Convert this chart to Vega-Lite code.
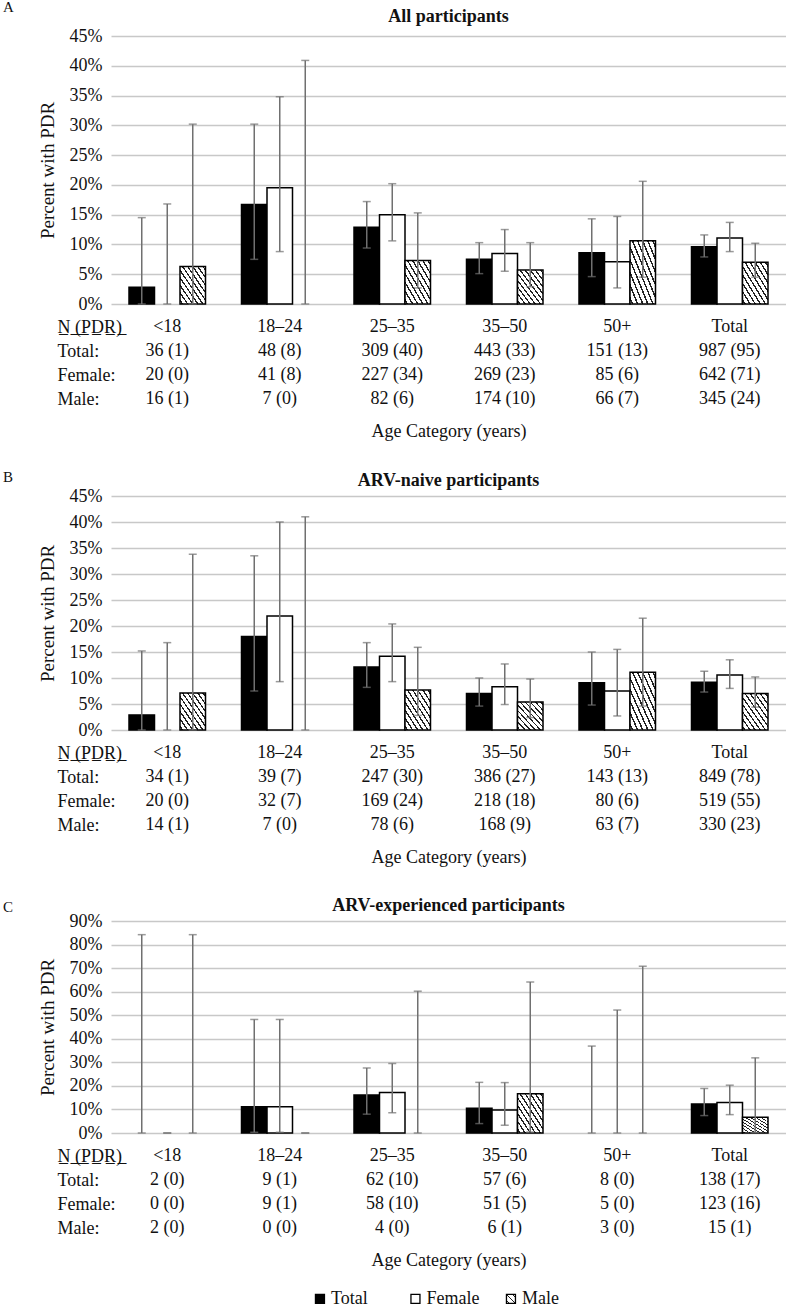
{
  "$schema": "https://vega.github.io/schema/vega-lite/v6.json",
  "padding": {"left": 3, "top": 0, "right": 0, "bottom": 0},
  "config": {
    "font": "Liberation Serif",
    "view": {"stroke": null},
    "axis": {"labelFont": "Liberation Serif", "titleFont": "Liberation Serif", "labelColor": "#111", "titleColor": "#111", "titleFontWeight": "normal", "labelOverlap": false},
    "title": {"font": "Liberation Serif", "color": "#111"},
    "text": {"font": "Liberation Serif", "color": "#111"}
  },
  "datasets": {
    "bars": [
      {"p":"A","age":"<18","sex":"Total","pct":2.8,"lo":0,"hi":14.5},
      {"p":"A","age":"<18","sex":"Female","pct":0,"lo":0,"hi":16.8},
      {"p":"A","age":"<18","sex":"Male","pct":6.3,"lo":0,"hi":30.2},
      {"p":"A","age":"18–24","sex":"Total","pct":16.7,"lo":7.5,"hi":30.2},
      {"p":"A","age":"18–24","sex":"Female","pct":19.5,"lo":8.8,"hi":34.8},
      {"p":"A","age":"18–24","sex":"Male","pct":0,"lo":0,"hi":40.9},
      {"p":"A","age":"25–35","sex":"Total","pct":12.9,"lo":9.4,"hi":17.2},
      {"p":"A","age":"25–35","sex":"Female","pct":15.0,"lo":10.6,"hi":20.2},
      {"p":"A","age":"25–35","sex":"Male","pct":7.3,"lo":2.7,"hi":15.3},
      {"p":"A","age":"35–50","sex":"Total","pct":7.5,"lo":5.1,"hi":10.3},
      {"p":"A","age":"35–50","sex":"Female","pct":8.5,"lo":5.5,"hi":12.5},
      {"p":"A","age":"35–50","sex":"Male","pct":5.7,"lo":2.9,"hi":10.3},
      {"p":"A","age":"50+","sex":"Total","pct":8.6,"lo":4.6,"hi":14.3},
      {"p":"A","age":"50+","sex":"Female","pct":7.1,"lo":2.7,"hi":14.7},
      {"p":"A","age":"50+","sex":"Male","pct":10.6,"lo":4.5,"hi":20.6},
      {"p":"A","age":"Total","sex":"Total","pct":9.6,"lo":7.9,"hi":11.6},
      {"p":"A","age":"Total","sex":"Female","pct":11.1,"lo":8.8,"hi":13.7},
      {"p":"A","age":"Total","sex":"Male","pct":7.0,"lo":4.5,"hi":10.2},
      {"p":"B","age":"<18","sex":"Total","pct":2.9,"lo":0,"hi":15.2},
      {"p":"B","age":"<18","sex":"Female","pct":0,"lo":0,"hi":16.8},
      {"p":"B","age":"<18","sex":"Male","pct":7.1,"lo":0,"hi":33.8},
      {"p":"B","age":"18–24","sex":"Total","pct":18.0,"lo":7.5,"hi":33.5},
      {"p":"B","age":"18–24","sex":"Female","pct":21.9,"lo":9.3,"hi":40.0},
      {"p":"B","age":"18–24","sex":"Male","pct":0,"lo":0,"hi":41.0},
      {"p":"B","age":"25–35","sex":"Total","pct":12.1,"lo":8.2,"hi":16.8},
      {"p":"B","age":"25–35","sex":"Female","pct":14.2,"lo":9.3,"hi":20.4},
      {"p":"B","age":"25–35","sex":"Male","pct":7.7,"lo":2.8,"hi":15.9},
      {"p":"B","age":"35–50","sex":"Total","pct":7.0,"lo":4.6,"hi":10.0},
      {"p":"B","age":"35–50","sex":"Female","pct":8.3,"lo":4.9,"hi":12.7},
      {"p":"B","age":"35–50","sex":"Male","pct":5.4,"lo":2.4,"hi":9.8},
      {"p":"B","age":"50+","sex":"Total","pct":9.1,"lo":4.8,"hi":15.0},
      {"p":"B","age":"50+","sex":"Female","pct":7.5,"lo":2.7,"hi":15.5},
      {"p":"B","age":"50+","sex":"Male","pct":11.1,"lo":4.6,"hi":21.5},
      {"p":"B","age":"Total","sex":"Total","pct":9.2,"lo":7.3,"hi":11.3},
      {"p":"B","age":"Total","sex":"Female","pct":10.6,"lo":8.0,"hi":13.5},
      {"p":"B","age":"Total","sex":"Male","pct":7.0,"lo":4.4,"hi":10.2},
      {"p":"C","age":"<18","sex":"Total","pct":0,"lo":0,"hi":84.2},
      {"p":"C","age":"<18","sex":"Female","pct":0,"lo":0,"hi":0},
      {"p":"C","age":"<18","sex":"Male","pct":0,"lo":0,"hi":84.2},
      {"p":"C","age":"18–24","sex":"Total","pct":11.1,"lo":0.3,"hi":48.2},
      {"p":"C","age":"18–24","sex":"Female","pct":11.1,"lo":0.3,"hi":48.2},
      {"p":"C","age":"18–24","sex":"Male","pct":0,"lo":0,"hi":0},
      {"p":"C","age":"25–35","sex":"Total","pct":16.1,"lo":8.0,"hi":27.6},
      {"p":"C","age":"25–35","sex":"Female","pct":17.2,"lo":8.6,"hi":29.5},
      {"p":"C","age":"25–35","sex":"Male","pct":0,"lo":0,"hi":60.2},
      {"p":"C","age":"35–50","sex":"Total","pct":10.5,"lo":4.0,"hi":21.5},
      {"p":"C","age":"35–50","sex":"Female","pct":9.8,"lo":3.3,"hi":21.4},
      {"p":"C","age":"35–50","sex":"Male","pct":16.7,"lo":0.4,"hi":64.1},
      {"p":"C","age":"50+","sex":"Total","pct":0,"lo":0,"hi":36.9},
      {"p":"C","age":"50+","sex":"Female","pct":0,"lo":0,"hi":52.2},
      {"p":"C","age":"50+","sex":"Male","pct":0,"lo":0,"hi":70.8},
      {"p":"C","age":"Total","sex":"Total","pct":12.3,"lo":7.4,"hi":18.9},
      {"p":"C","age":"Total","sex":"Female","pct":13.0,"lo":7.8,"hi":20.3},
      {"p":"C","age":"Total","sex":"Male","pct":6.7,"lo":0.2,"hi":31.9}
    ],
    "tbl": [
      {"p":"A","age":"<18","h":"<18","t":"36 (1)","f":"20 (0)","m":"16 (1)"},
      {"p":"A","age":"18–24","h":"18–24","t":"48 (8)","f":"41 (8)","m":"7 (0)"},
      {"p":"A","age":"25–35","h":"25–35","t":"309 (40)","f":"227 (34)","m":"82 (6)"},
      {"p":"A","age":"35–50","h":"35–50","t":"443 (33)","f":"269 (23)","m":"174 (10)"},
      {"p":"A","age":"50+","h":"50+","t":"151 (13)","f":"85 (6)","m":"66 (7)"},
      {"p":"A","age":"Total","h":"Total","t":"987 (95)","f":"642 (71)","m":"345 (24)"},
      {"p":"B","age":"<18","h":"<18","t":"34 (1)","f":"20 (0)","m":"14 (1)"},
      {"p":"B","age":"18–24","h":"18–24","t":"39 (7)","f":"32 (7)","m":"7 (0)"},
      {"p":"B","age":"25–35","h":"25–35","t":"247 (30)","f":"169 (24)","m":"78 (6)"},
      {"p":"B","age":"35–50","h":"35–50","t":"386 (27)","f":"218 (18)","m":"168 (9)"},
      {"p":"B","age":"50+","h":"50+","t":"143 (13)","f":"80 (6)","m":"63 (7)"},
      {"p":"B","age":"Total","h":"Total","t":"849 (78)","f":"519 (55)","m":"330 (23)"},
      {"p":"C","age":"<18","h":"<18","t":"2 (0)","f":"0 (0)","m":"2 (0)"},
      {"p":"C","age":"18–24","h":"18–24","t":"9 (1)","f":"9 (1)","m":"0 (0)"},
      {"p":"C","age":"25–35","h":"25–35","t":"62 (10)","f":"58 (10)","m":"4 (0)"},
      {"p":"C","age":"35–50","h":"35–50","t":"57 (6)","f":"51 (5)","m":"6 (1)"},
      {"p":"C","age":"50+","h":"50+","t":"8 (0)","f":"5 (0)","m":"3 (0)"},
      {"p":"C","age":"Total","h":"Total","t":"138 (17)","f":"123 (16)","m":"15 (1)"}
    ],
    "leg": [{"sex":"Total"},{"sex":"Female"},{"sex":"Male"}]
  },
  "spacing": 29,
  "vconcat": [
    {
      "title": {"text": "A", "anchor": "start", "frame": "group", "dx": -108, "offset": -18.7, "baseline": "alphabetic", "fontSize": 15, "fontWeight": "normal"},
      "bounds": "flush",
      "spacing": 11.4,
      "vconcat": [
        {
          "width": 675, "height": 268,
          "title": {"text": "All participants", "anchor": "middle", "frame": "group", "offset": -13.4, "baseline": "alphabetic", "fontSize": 18, "fontWeight": "bold"},
          "data": {"name": "bars"},
          "transform": [{"filter": "datum.p === 'A'"}],
          "encoding": {
            "x": {"field": "age", "type": "nominal", "sort": ["<18","18–24","25–35","35–50","50+","Total"], "scale": {"domain": ["<18","18–24","25–35","35–50","50+","Total"], "paddingInner": 0.32, "paddingOuter": 0.16}, "axis": null},
            "xOffset": {"field": "sex", "type": "nominal", "sort": ["Total","Female","Male"], "scale": {"domain": ["Total","Female","Male"], "paddingInner": 0, "paddingOuter": 0}}
          },
          "layer": [
            {
              "transform": [{"filter": "datum.sex !== 'Male' && datum.pct > 0"}],
              "mark": {"type": "bar", "stroke": "#000", "strokeWidth": 1.5},
              "encoding": {
                "y": {"field": "pct", "type": "quantitative", "scale": {"domain": [0, 45], "nice": false}, "axis": {"title": "Percent with PDR", "values": [0,5,10,15,20,25,30,35,40,45], "tickCount": 10, "labelOverlap": false, "labelExpr": "datum.value + '%'", "domain": false, "ticks": false, "grid": true, "gridColor": "#c8c8c8", "gridWidth": 1.5, "labelPadding": 9, "labelFontSize": 18, "titleFontSize": 19, "titlePadding": 12}},
                "fill": {"field": "sex", "type": "nominal", "scale": {"domain": ["Total","Female"], "range": ["#000","#fff"]}, "legend": null}
              }
            },
            {
              "transform": [{"filter": "datum.sex === 'Male' && datum.pct > 0"}],
              "mark": {"type": "bar", "stroke": "#000", "strokeWidth": 1.5, "fill": {"gradient": "linear", "x1": 0, "y1": 1, "x2": 1, "y2": 0, "stops": [{"offset":0,"color":"#fff"},{"offset":0.035,"color":"#fff"},{"offset":0.035,"color":"#222"},{"offset":0.065,"color":"#222"},{"offset":0.065,"color":"#fff"},{"offset":0.135,"color":"#fff"},{"offset":0.135,"color":"#222"},{"offset":0.165,"color":"#222"},{"offset":0.165,"color":"#fff"},{"offset":0.235,"color":"#fff"},{"offset":0.235,"color":"#222"},{"offset":0.265,"color":"#222"},{"offset":0.265,"color":"#fff"},{"offset":0.335,"color":"#fff"},{"offset":0.335,"color":"#222"},{"offset":0.365,"color":"#222"},{"offset":0.365,"color":"#fff"},{"offset":0.435,"color":"#fff"},{"offset":0.435,"color":"#222"},{"offset":0.465,"color":"#222"},{"offset":0.465,"color":"#fff"},{"offset":0.535,"color":"#fff"},{"offset":0.535,"color":"#222"},{"offset":0.565,"color":"#222"},{"offset":0.565,"color":"#fff"},{"offset":0.635,"color":"#fff"},{"offset":0.635,"color":"#222"},{"offset":0.665,"color":"#222"},{"offset":0.665,"color":"#fff"},{"offset":0.735,"color":"#fff"},{"offset":0.735,"color":"#222"},{"offset":0.765,"color":"#222"},{"offset":0.765,"color":"#fff"},{"offset":0.835,"color":"#fff"},{"offset":0.835,"color":"#222"},{"offset":0.865,"color":"#222"},{"offset":0.865,"color":"#fff"},{"offset":0.935,"color":"#fff"},{"offset":0.935,"color":"#222"},{"offset":0.965,"color":"#222"},{"offset":0.965,"color":"#fff"},{"offset":1,"color":"#fff"}]}},
              "encoding": {"y": {"field": "pct", "type": "quantitative"}}
            },
            {
              "mark": {"type": "rule", "color": "#707070", "strokeWidth": 1.5},
              "encoding": {"y": {"field": "lo", "type": "quantitative"}, "y2": {"field": "hi"}}
            },
            {
              "mark": {"type": "tick", "color": "#707070", "thickness": 1.5, "size": 8},
              "encoding": {"y": {"field": "hi", "type": "quantitative"}}
            },
            {
              "mark": {"type": "tick", "color": "#707070", "thickness": 1.5, "size": 8},
              "encoding": {"y": {"field": "lo", "type": "quantitative"}}
            }
          ]
        },
        {
          "width": 675, "height": 96,
          "data": {"name": "tbl"},
          "transform": [{"filter": "datum.p === 'A'"}, {"fold": ["h","t","f","m"], "as": ["row","txt"]}],
          "mark": {"type": "text", "fontSize": 18, "baseline": "middle"},
          "encoding": {
            "x": {"field": "age", "type": "nominal", "sort": ["<18","18–24","25–35","35–50","50+","Total"], "scale": {"domain": ["<18","18–24","25–35","35–50","50+","Total"], "paddingInner": 0.32, "paddingOuter": 0.16}, "axis": {"title": "Age Category (years)", "labels": false, "ticks": false, "domain": false, "grid": false, "titleFontSize": 18, "titlePadding": 11}},
            "y": {"field": "row", "type": "nominal", "sort": ["h","t","f","m"], "scale": {"domain": ["h","t","f","m"], "paddingInner": 0, "paddingOuter": 0}, "axis": {"title": null, "labelExpr": "datum.value === 'h' ? 'N\u0332 \u0332(\u0332P\u0332D\u0332R\u0332)\u0332' : datum.value === 't' ? 'Total:' : datum.value === 'f' ? 'Female:' : 'Male:'", "labelAlign": "left", "labelPadding": 54, "ticks": false, "domain": false, "grid": false, "labelFontSize": 18}},
            "text": {"field": "txt", "type": "nominal"}
          }
        }
      ]
    },
    {
      "title": {"text": "B", "anchor": "start", "frame": "group", "dx": -108, "offset": -25.6, "baseline": "alphabetic", "fontSize": 15, "fontWeight": "normal"},
      "bounds": "flush",
      "spacing": 11.4,
      "vconcat": [
        {
          "width": 675, "height": 234,
          "title": {"text": "ARV-naive participants", "anchor": "middle", "frame": "group", "offset": -16.7, "baseline": "alphabetic", "fontSize": 18, "fontWeight": "bold"},
          "data": {"name": "bars"},
          "transform": [{"filter": "datum.p === 'B'"}],
          "encoding": {
            "x": {"field": "age", "type": "nominal", "sort": ["<18","18–24","25–35","35–50","50+","Total"], "scale": {"domain": ["<18","18–24","25–35","35–50","50+","Total"], "paddingInner": 0.32, "paddingOuter": 0.16}, "axis": null},
            "xOffset": {"field": "sex", "type": "nominal", "sort": ["Total","Female","Male"], "scale": {"domain": ["Total","Female","Male"], "paddingInner": 0, "paddingOuter": 0}}
          },
          "layer": [
            {
              "transform": [{"filter": "datum.sex !== 'Male' && datum.pct > 0"}],
              "mark": {"type": "bar", "stroke": "#000", "strokeWidth": 1.5},
              "encoding": {
                "y": {"field": "pct", "type": "quantitative", "scale": {"domain": [0, 45], "nice": false}, "axis": {"title": "Percent with PDR", "values": [0,5,10,15,20,25,30,35,40,45], "tickCount": 10, "labelOverlap": false, "labelExpr": "datum.value + '%'", "domain": false, "ticks": false, "grid": true, "gridColor": "#c8c8c8", "gridWidth": 1.5, "labelPadding": 9, "labelFontSize": 18, "titleFontSize": 19, "titlePadding": 12}},
                "fill": {"field": "sex", "type": "nominal", "scale": {"domain": ["Total","Female"], "range": ["#000","#fff"]}, "legend": null}
              }
            },
            {
              "transform": [{"filter": "datum.sex === 'Male' && datum.pct > 0"}],
              "mark": {"type": "bar", "stroke": "#000", "strokeWidth": 1.5, "fill": {"gradient": "linear", "x1": 0, "y1": 1, "x2": 1, "y2": 0, "stops": [{"offset":0,"color":"#fff"},{"offset":0.035,"color":"#fff"},{"offset":0.035,"color":"#222"},{"offset":0.065,"color":"#222"},{"offset":0.065,"color":"#fff"},{"offset":0.135,"color":"#fff"},{"offset":0.135,"color":"#222"},{"offset":0.165,"color":"#222"},{"offset":0.165,"color":"#fff"},{"offset":0.235,"color":"#fff"},{"offset":0.235,"color":"#222"},{"offset":0.265,"color":"#222"},{"offset":0.265,"color":"#fff"},{"offset":0.335,"color":"#fff"},{"offset":0.335,"color":"#222"},{"offset":0.365,"color":"#222"},{"offset":0.365,"color":"#fff"},{"offset":0.435,"color":"#fff"},{"offset":0.435,"color":"#222"},{"offset":0.465,"color":"#222"},{"offset":0.465,"color":"#fff"},{"offset":0.535,"color":"#fff"},{"offset":0.535,"color":"#222"},{"offset":0.565,"color":"#222"},{"offset":0.565,"color":"#fff"},{"offset":0.635,"color":"#fff"},{"offset":0.635,"color":"#222"},{"offset":0.665,"color":"#222"},{"offset":0.665,"color":"#fff"},{"offset":0.735,"color":"#fff"},{"offset":0.735,"color":"#222"},{"offset":0.765,"color":"#222"},{"offset":0.765,"color":"#fff"},{"offset":0.835,"color":"#fff"},{"offset":0.835,"color":"#222"},{"offset":0.865,"color":"#222"},{"offset":0.865,"color":"#fff"},{"offset":0.935,"color":"#fff"},{"offset":0.935,"color":"#222"},{"offset":0.965,"color":"#222"},{"offset":0.965,"color":"#fff"},{"offset":1,"color":"#fff"}]}},
              "encoding": {"y": {"field": "pct", "type": "quantitative"}}
            },
            {
              "mark": {"type": "rule", "color": "#707070", "strokeWidth": 1.5},
              "encoding": {"y": {"field": "lo", "type": "quantitative"}, "y2": {"field": "hi"}}
            },
            {
              "mark": {"type": "tick", "color": "#707070", "thickness": 1.5, "size": 8},
              "encoding": {"y": {"field": "hi", "type": "quantitative"}}
            },
            {
              "mark": {"type": "tick", "color": "#707070", "thickness": 1.5, "size": 8},
              "encoding": {"y": {"field": "lo", "type": "quantitative"}}
            }
          ]
        },
        {
          "width": 675, "height": 96,
          "data": {"name": "tbl"},
          "transform": [{"filter": "datum.p === 'B'"}, {"fold": ["h","t","f","m"], "as": ["row","txt"]}],
          "mark": {"type": "text", "fontSize": 18, "baseline": "middle"},
          "encoding": {
            "x": {"field": "age", "type": "nominal", "sort": ["<18","18–24","25–35","35–50","50+","Total"], "scale": {"domain": ["<18","18–24","25–35","35–50","50+","Total"], "paddingInner": 0.32, "paddingOuter": 0.16}, "axis": {"title": "Age Category (years)", "labels": false, "ticks": false, "domain": false, "grid": false, "titleFontSize": 18, "titlePadding": 11}},
            "y": {"field": "row", "type": "nominal", "sort": ["h","t","f","m"], "scale": {"domain": ["h","t","f","m"], "paddingInner": 0, "paddingOuter": 0}, "axis": {"title": null, "labelExpr": "datum.value === 'h' ? 'N\u0332 \u0332(\u0332P\u0332D\u0332R\u0332)\u0332' : datum.value === 't' ? 'Total:' : datum.value === 'f' ? 'Female:' : 'Male:'", "labelAlign": "left", "labelPadding": 54, "ticks": false, "domain": false, "grid": false, "labelFontSize": 18}},
            "text": {"field": "txt", "type": "nominal"}
          }
        }
      ]
    },
    {
      "title": {"text": "C", "anchor": "start", "frame": "group", "dx": -108, "offset": -30, "baseline": "alphabetic", "fontSize": 15, "fontWeight": "normal"},
      "bounds": "flush",
      "center": true,
      "spacing": 11.4,
      "vconcat": [
        {
          "width": 675, "height": 212,
          "title": {"text": "ARV-experienced participants", "anchor": "middle", "frame": "group", "offset": -16.6, "baseline": "alphabetic", "fontSize": 18, "fontWeight": "bold"},
          "data": {"name": "bars"},
          "transform": [{"filter": "datum.p === 'C'"}],
          "encoding": {
            "x": {"field": "age", "type": "nominal", "sort": ["<18","18–24","25–35","35–50","50+","Total"], "scale": {"domain": ["<18","18–24","25–35","35–50","50+","Total"], "paddingInner": 0.32, "paddingOuter": 0.16}, "axis": null},
            "xOffset": {"field": "sex", "type": "nominal", "sort": ["Total","Female","Male"], "scale": {"domain": ["Total","Female","Male"], "paddingInner": 0, "paddingOuter": 0}}
          },
          "layer": [
            {
              "transform": [{"filter": "datum.sex !== 'Male' && datum.pct > 0"}],
              "mark": {"type": "bar", "stroke": "#000", "strokeWidth": 1.5},
              "encoding": {
                "y": {"field": "pct", "type": "quantitative", "scale": {"domain": [0, 90], "nice": false}, "axis": {"title": "Percent with PDR", "values": [0,10,20,30,40,50,60,70,80,90], "tickCount": 10, "labelOverlap": false, "labelExpr": "datum.value + '%'", "domain": false, "ticks": false, "grid": true, "gridColor": "#c8c8c8", "gridWidth": 1.5, "labelPadding": 9, "labelFontSize": 18, "titleFontSize": 19, "titlePadding": 12}},
                "fill": {"field": "sex", "type": "nominal", "scale": {"domain": ["Total","Female"], "range": ["#000","#fff"]}, "legend": null}
              }
            },
            {
              "transform": [{"filter": "datum.sex === 'Male' && datum.pct > 0"}],
              "mark": {"type": "bar", "stroke": "#000", "strokeWidth": 1.5, "fill": {"gradient": "linear", "x1": 0, "y1": 1, "x2": 1, "y2": 0, "stops": [{"offset":0,"color":"#fff"},{"offset":0.035,"color":"#fff"},{"offset":0.035,"color":"#222"},{"offset":0.065,"color":"#222"},{"offset":0.065,"color":"#fff"},{"offset":0.135,"color":"#fff"},{"offset":0.135,"color":"#222"},{"offset":0.165,"color":"#222"},{"offset":0.165,"color":"#fff"},{"offset":0.235,"color":"#fff"},{"offset":0.235,"color":"#222"},{"offset":0.265,"color":"#222"},{"offset":0.265,"color":"#fff"},{"offset":0.335,"color":"#fff"},{"offset":0.335,"color":"#222"},{"offset":0.365,"color":"#222"},{"offset":0.365,"color":"#fff"},{"offset":0.435,"color":"#fff"},{"offset":0.435,"color":"#222"},{"offset":0.465,"color":"#222"},{"offset":0.465,"color":"#fff"},{"offset":0.535,"color":"#fff"},{"offset":0.535,"color":"#222"},{"offset":0.565,"color":"#222"},{"offset":0.565,"color":"#fff"},{"offset":0.635,"color":"#fff"},{"offset":0.635,"color":"#222"},{"offset":0.665,"color":"#222"},{"offset":0.665,"color":"#fff"},{"offset":0.735,"color":"#fff"},{"offset":0.735,"color":"#222"},{"offset":0.765,"color":"#222"},{"offset":0.765,"color":"#fff"},{"offset":0.835,"color":"#fff"},{"offset":0.835,"color":"#222"},{"offset":0.865,"color":"#222"},{"offset":0.865,"color":"#fff"},{"offset":0.935,"color":"#fff"},{"offset":0.935,"color":"#222"},{"offset":0.965,"color":"#222"},{"offset":0.965,"color":"#fff"},{"offset":1,"color":"#fff"}]}},
              "encoding": {"y": {"field": "pct", "type": "quantitative"}}
            },
            {
              "mark": {"type": "rule", "color": "#707070", "strokeWidth": 1.5},
              "encoding": {"y": {"field": "lo", "type": "quantitative"}, "y2": {"field": "hi"}}
            },
            {
              "mark": {"type": "tick", "color": "#707070", "thickness": 1.5, "size": 8},
              "encoding": {"y": {"field": "hi", "type": "quantitative"}}
            },
            {
              "mark": {"type": "tick", "color": "#707070", "thickness": 1.5, "size": 8},
              "encoding": {"y": {"field": "lo", "type": "quantitative"}}
            }
          ]
        },
        {
          "width": 675, "height": 96,
          "data": {"name": "tbl"},
          "transform": [{"filter": "datum.p === 'C'"}, {"fold": ["h","t","f","m"], "as": ["row","txt"]}],
          "mark": {"type": "text", "fontSize": 18, "baseline": "middle"},
          "encoding": {
            "x": {"field": "age", "type": "nominal", "sort": ["<18","18–24","25–35","35–50","50+","Total"], "scale": {"domain": ["<18","18–24","25–35","35–50","50+","Total"], "paddingInner": 0.32, "paddingOuter": 0.16}, "axis": {"title": "Age Category (years)", "labels": false, "ticks": false, "domain": false, "grid": false, "titleFontSize": 18, "titlePadding": 11}},
            "y": {"field": "row", "type": "nominal", "sort": ["h","t","f","m"], "scale": {"domain": ["h","t","f","m"], "paddingInner": 0, "paddingOuter": 0}, "axis": {"title": null, "labelExpr": "datum.value === 'h' ? 'N\u0332 \u0332(\u0332P\u0332D\u0332R\u0332)\u0332' : datum.value === 't' ? 'Total:' : datum.value === 'f' ? 'Female:' : 'Male:'", "labelAlign": "left", "labelPadding": 54, "ticks": false, "domain": false, "grid": false, "labelFontSize": 18}},
            "text": {"field": "txt", "type": "nominal"}
          }
        },
        {
          "width": 382, "height": 94,
          "data": {"name": "leg"},
          "encoding": {
            "x": {"field": "sex", "type": "nominal", "sort": ["Total","Female","Male"], "scale": {"type": "point", "domain": ["Total","Female","Male"], "padding": 1, "align": 0.327}, "axis": null}
          },
          "layer": [
            {
              "transform": [{"filter": "datum.sex !== 'Male'"}],
              "mark": {"type": "point", "shape": "square", "filled": true, "size": 81, "stroke": "#000", "strokeWidth": 1.3, "opacity": 1},
              "encoding": {"fill": {"field": "sex", "type": "nominal", "scale": {"domain": ["Total","Female"], "range": ["#000","#fff"]}, "legend": null}}
            },
            {
              "transform": [{"filter": "datum.sex === 'Male'"}],
              "mark": {"type": "point", "shape": "square", "filled": true, "size": 81, "stroke": "#000", "strokeWidth": 1.3, "opacity": 1, "fill": {"gradient": "linear", "x1": 0, "y1": 1, "x2": 1, "y2": 0, "stops": [{"offset":0,"color":"#fff"},{"offset":0.13,"color":"#fff"},{"offset":0.13,"color":"#222"},{"offset":0.2,"color":"#222"},{"offset":0.2,"color":"#fff"},{"offset":0.46,"color":"#fff"},{"offset":0.46,"color":"#222"},{"offset":0.54,"color":"#222"},{"offset":0.54,"color":"#fff"},{"offset":0.8,"color":"#fff"},{"offset":0.8,"color":"#222"},{"offset":0.87,"color":"#222"},{"offset":0.87,"color":"#fff"},{"offset":1,"color":"#fff"}]}},
              "encoding": {}
            },
            {
              "mark": {"type": "text", "align": "left", "baseline": "middle", "dx": 11, "fontSize": 18},
              "encoding": {"text": {"field": "sex", "type": "nominal"}}
            }
          ]
        }
      ]
    }
  ]
}
